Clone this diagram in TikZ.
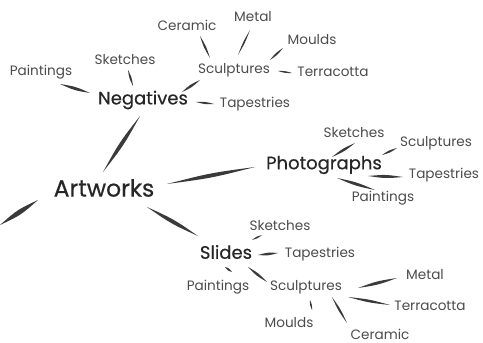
\documentclass[tikz,border=0pt]{standalone}
\usepackage{fontspec}
\setmainfont{Poppins}
\newfontfamily\mainfam{Poppins}[FakeBold=0.5]
\usetikzlibrary{calc}
\definecolor{leafcol}{HTML}{4C4C4C}
\definecolor{maincol}{HTML}{262626}
\definecolor{inkcol}{HTML}{3A3A3A}
% \brush[half-bulge]{node1}{dx,dy}{node2}{dx,dy}
\newcommand\brush[5][1.8pt]{%
  \path ([shift={(#3)}]#2.center) coordinate (bA)
        ([shift={(#5)}]#4.center) coordinate (bB);
  \fill[inkcol] (bA) .. controls ($(bA)!0.5!(bB)!#1!90:(bB)$) .. (bB)
        .. controls ($(bA)!0.5!(bB)!#1!-90:(bB)$) .. (bA) -- cycle;}
\begin{document}
\begin{tikzpicture}[x=1pt,y=1pt,
  leaf/.style={font=\fontsize{13.6}{14}\selectfont, text=leafcol, inner sep=0pt},
  mainlbl/.style={font=\mainfam\fontsize{18}{18}\selectfont, text=maincol, inner sep=0pt},
  rootlbl/.style={font=\mainfam\fontsize{23.5}{24}\selectfont, text=maincol, inner sep=0pt}]
\useasboundingbox (0,0) rectangle (483,343);
% main nodes
\node[rootlbl] (art) at (104,155) {Artworks};
\node[mainlbl] (neg) at (143,243) {Negatives};
\node[mainlbl] (pho) at (324,178) {Photographs};
\node[mainlbl] (sli) at (226,91) {Slides};
% negatives
\node[leaf] (npai) at (41,271) {Paintings};
\node[leaf] (nske) at (125,283) {Sketches};
\node[leaf] (nscu) at (234,273) {Sculptures};
\node[leaf] (ncer) at (187,318) {Ceramic};
\node[leaf] (nmet) at (253,326) {Metal};
\node[leaf] (nmou) at (312,303) {Moulds};
\node[leaf] (nter) at (333,271) {Terracotta};
\node[leaf] (ntap) at (255,239) {Tapestries};
% photographs
\node[leaf] (pske) at (354,210) {Sketches};
\node[leaf] (pscu) at (436,200) {Sculptures};
\node[leaf] (ptap) at (444,168) {Tapestries};
\node[leaf] (ppai) at (383,145) {Paintings};
% slides
\node[leaf] (sske) at (280,117) {Sketches};
\node[leaf] (stap) at (320,89) {Tapestries};
\node[leaf] (spai) at (218,56) {Paintings};
\node[leaf] (sscu) at (306,56) {Sculptures};
\node[leaf] (smet) at (425,68) {Metal};
\node[leaf] (ster) at (430,37) {Terracotta};
\node[leaf] (smou) at (289,20) {Moulds};
\node[leaf] (scer) at (380,9) {Ceramic};
\coordinate (edge) at (0,118);
% connectors
\brush[2.6pt]{art}{-1,16}{neg}{-3,-16}
\brush[2pt]{npai}{19,-12}{neg}{-53,7}
\brush[1.4pt]{nske}{3,-10}{neg}{-10,14}
\brush[1.7pt]{neg}{39,8}{nscu}{-34,-10}
\brush[1.4pt]{neg}{53,-2}{ntap}{-41,0}
\brush[1.4pt]{nscu}{-24,12}{ncer}{13,-11}
\brush[1.1pt]{nscu}{4,15}{nmet}{-3,-13}
\brush[1.4pt]{nscu}{36,10}{nmou}{-29,-8}
\brush[1.1pt]{nscu}{44,-1}{nter}{-41,-1}
\brush[2.6pt]{art}{63,4}{pho}{-69,-2}
\brush[1.7pt]{pho}{8,8}{pske}{1,-10}
\brush[1.4pt]{pho}{58,10}{pscu}{-39,-5}
\brush[2pt]{pho}{44,-11}{ptap}{-41,-2}
\brush[2pt]{pho}{13,-13}{ppai}{-8,8}
\brush[2.6pt]{art}{43,-19}{sli}{-28,16}
\brush[3.2pt]{edge}{0,0}{art}{-66,-12}
\brush[1.1pt]{sli}{26,12}{sske}{-18,-9}
\brush[1.7pt]{sli}{32,-3}{stap}{-42,1}
\brush[1.4pt]{sli}{-1,-15}{spai}{14,15}
\brush[1.7pt]{sli}{22,-15}{sscu}{-39,5}
\brush[2pt]{sscu}{52,-1}{smet}{-28,-3}
\brush[1.7pt]{sscu}{42,-10}{ster}{-40,1}
\brush[1.1pt]{sscu}{4,-13}{smou}{23,13}
\brush[1.4pt]{sscu}{26,-10}{scer}{-33,11}
\end{tikzpicture}
\end{document}
